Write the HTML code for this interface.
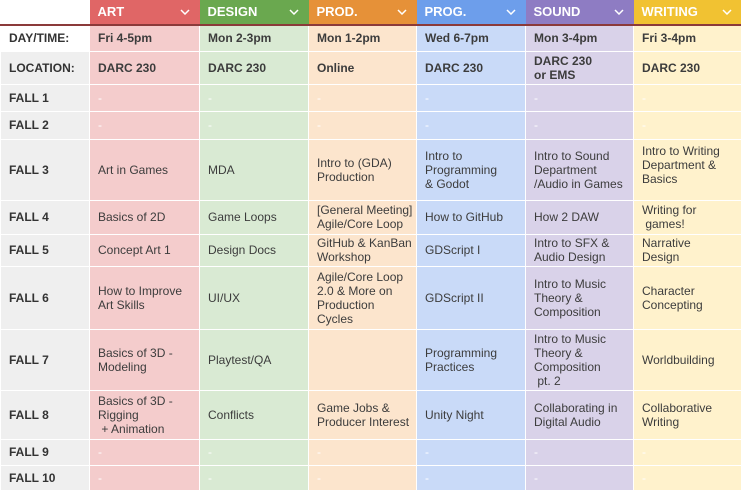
<!DOCTYPE html>
<html><head><style>
body{margin:0;width:741px;height:491px;overflow:hidden;background:#fff;font-family:"Liberation Sans",Arial,sans-serif;}
table{border-collapse:collapse;table-layout:fixed;width:741px;}
td{padding:0 0 0 8px;font-size:12px;color:#3c3c3c;vertical-align:middle;line-height:14px;border:1px solid #fff;overflow:hidden;white-space:nowrap}
tr.h td{height:24px;color:#fff;font-weight:bold;font-size:13px;border:none;border-bottom:2px solid #8b3a3a;position:relative}
tr.h td svg{position:absolute;right:10px;top:9px}
td.l{font-weight:bold;background:#efefef;color:#333}
tr.b td{font-weight:bold}
.a{background:#f4cccc}.d{background:#d9ead3}.p{background:#fce5cd}.g{background:#c9daf8}.s{background:#d9d2e9}.w{background:#fff2cc}
.x{color:#fff}
</style></head><body>
<table>
<colgroup><col style="width:89px"><col style="width:110px"><col style="width:109px"><col style="width:108px"><col style="width:109px"><col style="width:108px"><col style="width:108px"></colgroup>
<tr class="h"><td style="background:#fff;border-bottom:2px solid #8b3a3a"></td>
<td style="background:#e06666">ART<svg width="10" height="6"><polyline points="1,1 5,5 9,1" fill="none" stroke="#fff" stroke-width="1.5"/></svg></td>
<td style="background:#6aa84f">DESIGN<svg width="10" height="6"><polyline points="1,1 5,5 9,1" fill="none" stroke="#fff" stroke-width="1.5"/></svg></td>
<td style="background:#e69138">PROD.<svg width="10" height="6"><polyline points="1,1 5,5 9,1" fill="none" stroke="#fff" stroke-width="1.5"/></svg></td>
<td style="background:#6d9eeb">PROG.<svg width="10" height="6"><polyline points="1,1 5,5 9,1" fill="none" stroke="#fff" stroke-width="1.5"/></svg></td>
<td style="background:#8e7cc3">SOUND<svg width="10" height="6"><polyline points="1,1 5,5 9,1" fill="none" stroke="#fff" stroke-width="1.5"/></svg></td>
<td style="background:#f1c232">WRITING<svg width="10" height="6"><polyline points="1,1 5,5 9,1" fill="none" stroke="#fff" stroke-width="1.5"/></svg></td></tr>
<tr class="b" style="height:26px"><td class="l" style="background:#fff">DAY/TIME:</td><td class="a">Fri 4-5pm</td><td class="d">Mon 2-3pm</td><td class="p">Mon 1-2pm</td><td class="g">Wed 6-7pm</td><td class="s">Mon 3-4pm</td><td class="w">Fri 3-4pm</td></tr>
<tr class="b" style="height:33px"><td class="l">LOCATION:</td><td class="a">DARC 230</td><td class="d">DARC 230</td><td class="p">Online</td><td class="g">DARC 230</td><td class="s">DARC 230<br>or EMS</td><td class="w">DARC 230</td></tr>
<tr style="height:27px"><td class="l">FALL 1</td><td class="a x">-</td><td class="d x">-</td><td class="p x">-</td><td class="g x">-</td><td class="s x">-</td><td class="w x">-</td></tr>
<tr style="height:28px"><td class="l">FALL 2</td><td class="a x">-</td><td class="d x">-</td><td class="p x">-</td><td class="g x">-</td><td class="s x">-</td><td class="w x">-</td></tr>
<tr style="height:61px"><td class="l">FALL 3</td><td class="a">Art in Games</td><td class="d">MDA</td><td class="p">Intro to (GDA)<br>Production</td><td class="g">Intro to<br>Programming<br>&amp; Godot</td><td class="s">Intro to Sound<br>Department<br>/Audio in Games</td><td class="w" style="vertical-align:top;padding-top:4px">Intro to Writing<br>Department &amp;<br>Basics</td></tr>
<tr style="height:34px"><td class="l">FALL 4</td><td class="a">Basics of 2D</td><td class="d">Game Loops</td><td class="p">[General Meeting]<br>Agile/Core Loop</td><td class="g">How to GitHub</td><td class="s">How 2 DAW</td><td class="w">Writing for<br>&nbsp;games!</td></tr>
<tr style="height:32px"><td class="l">FALL 5</td><td class="a">Concept Art 1</td><td class="d">Design Docs</td><td class="p">GitHub &amp; KanBan<br>Workshop</td><td class="g">GDScript I</td><td class="s">Intro to SFX &amp;<br>Audio Design</td><td class="w">Narrative<br>Design</td></tr>
<tr style="height:63px"><td class="l">FALL 6</td><td class="a">How to Improve<br>Art Skills</td><td class="d">UI/UX</td><td class="p">Agile/Core Loop<br>2.0 &amp; More on<br>Production<br>Cycles</td><td class="g">GDScript II</td><td class="s">Intro to Music<br>Theory &amp;<br>Composition</td><td class="w">Character<br>Concepting</td></tr>
<tr style="height:61px"><td class="l">FALL 7</td><td class="a">Basics of 3D -<br>Modeling</td><td class="d">Playtest/QA</td><td class="p"></td><td class="g">Programming<br>Practices</td><td class="s">Intro to Music<br>Theory &amp;<br>Composition<br>&nbsp;pt. 2</td><td class="w">Worldbuilding</td></tr>
<tr style="height:49px"><td class="l">FALL 8</td><td class="a">Basics of 3D -<br>Rigging<br>&nbsp;+ Animation</td><td class="d">Conflicts</td><td class="p">Game Jobs &amp;<br>Producer Interest</td><td class="g">Unity Night</td><td class="s">Collaborating in<br>Digital Audio</td><td class="w">Collaborative<br>Writing</td></tr>
<tr style="height:26px"><td class="l">FALL 9</td><td class="a x">-</td><td class="d x">-</td><td class="p x">-</td><td class="g x">-</td><td class="s x">-</td><td class="w x">-</td></tr>
<tr style="height:25px"><td class="l">FALL 10</td><td class="a x">-</td><td class="d x">-</td><td class="p x">-</td><td class="g x">-</td><td class="s x">-</td><td class="w x">-</td></tr>
</table>
</body></html>
